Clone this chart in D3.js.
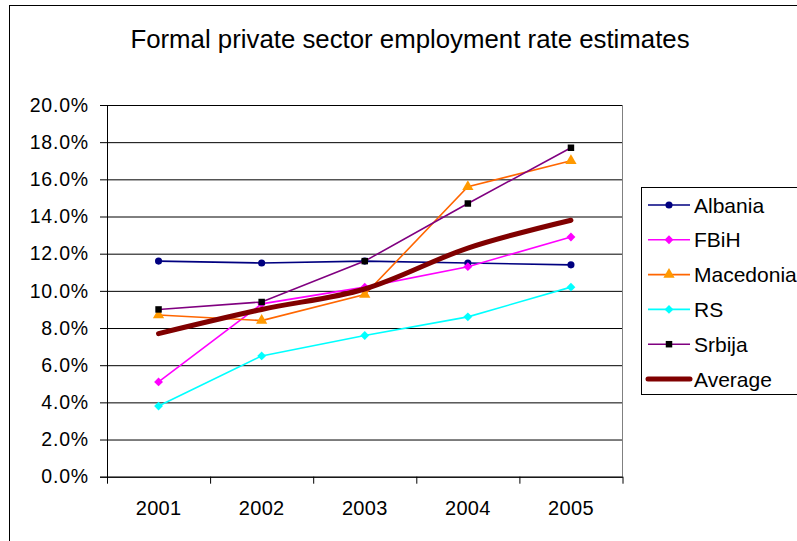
<!DOCTYPE html>
<html>
<head>
<meta charset="utf-8">
<script src="https://cdn.jsdelivr.net/npm/d3@7"></script>
<style>
  body { margin: 0; background: #fff; }
  text { font-family: "Liberation Sans", Arial, sans-serif; fill: #000; }
</style>
</head>
<body>
<div id="chart"></div>
<script>
const years = ["2001", "2002", "2003", "2004", "2005"];
const albania = [11.6, 11.5, 11.6, 11.5, 11.4];
const fbih = [5.1, 9.3, 10.2, 11.3, 12.9];
const macedonia = [8.7, 8.4, 9.8, 15.6, 17.0];
const rs = [3.8, 6.5, 7.6, 8.6, 10.2];
const srbija = [9.0, 9.4, 11.6, 14.7, 17.7];
const average = [7.7, 9.0, 10.1, 12.3, 13.8];
const yTicks = [0, 2, 4, 6, 8, 10, 12, 14, 16, 18, 20];

const series = [
  { name: "Albania", values: albania, line: "#000080", fill: "#000080", marker: "circle" },
  { name: "FBiH", values: fbih, line: "#FF00FF", fill: "#FF00FF", marker: "diamond" },
  { name: "Macedonia", values: macedonia, line: "#FF6600", fill: "#FF9900", marker: "triangle" },
  { name: "RS", values: rs, line: "#00FFFF", fill: "#00FFFF", marker: "diamond" },
  { name: "Srbija", values: srbija, line: "#800080", fill: "#000000", marker: "square" },
  { name: "Average", values: average, line: "#800000", fill: "none", marker: null, width: 5, smooth: true }
];

const W = 797, H = 541;
const plot = { left: 107, right: 622.5, top: 105, bottom: 476.7 };

const svg = d3.select("#chart").append("svg")
  .attr("width", W)
  .attr("height", H);

// outer chart border
svg.append("rect")
  .attr("x", 9.5).attr("y", 5.5)
  .attr("width", W + 10).attr("height", H + 10)
  .attr("fill", "none").attr("stroke", "#000").attr("stroke-width", 1);

svg.append("text")
  .attr("x", 410).attr("y", 48)
  .attr("text-anchor", "middle")
  .style("font-size", "25.8px")
  .text("Formal private sector employment rate estimates");

const x = d3.scaleBand().domain(years).range([plot.left, plot.right]);
const xEdge = d3.scaleLinear().domain([0, years.length]).range([plot.left, plot.right]);
const y = d3.scaleLinear().domain([0, 20]).range([plot.bottom, plot.top]);

// gridlines
svg.append("g")
  .attr("transform", `translate(${plot.left},0)`)
  .call(d3.axisLeft(y).tickValues(yTicks).tickSize(-(plot.right - plot.left)).tickFormat(""))
  .call(g => g.select(".domain").remove())
  .selectAll("line").attr("stroke", "#000");

// plot area right edge
svg.append("line")
  .attr("x1", plot.right).attr("x2", plot.right)
  .attr("y1", plot.top).attr("y2", plot.bottom)
  .attr("stroke", "#808080");

// y axis
svg.append("g")
  .attr("transform", `translate(${plot.left},0)`)
  .call(d3.axisLeft(y).tickValues(yTicks).tickSize(7).tickPadding(11)
    .tickFormat(d => d.toFixed(1) + "%"))
  .call(g => g.selectAll("text").style("font-size", "19.5px").attr("letter-spacing", "0.8px"))
  .call(g => g.selectAll("path, line").attr("stroke", "#000"));

// x axis labels
svg.append("g")
  .attr("transform", `translate(0,${plot.bottom})`)
  .call(d3.axisBottom(x).tickSize(0).tickPadding(24))
  .call(g => g.select(".domain").attr("stroke", "#000"))
  .call(g => g.selectAll("text").style("font-size", "20px").attr("letter-spacing", "0.3px"));

// x tick marks between categories
svg.append("g")
  .attr("transform", `translate(0,${plot.bottom})`)
  .call(d3.axisBottom(xEdge).tickValues(d3.range(years.length + 1)).tickSize(7).tickFormat(""))
  .call(g => g.select(".domain").remove())
  .selectAll("line").attr("stroke", "#000");

const cx = (d, i) => x(years[i]) + x.bandwidth() / 2;

const symbolOf = {
  circle: d3.symbol().type(d3.symbolCircle).size(40),
  diamond: d3.symbol().type(d3.symbolDiamond2).size(50),
  triangle: d3.symbol().type(d3.symbolTriangle).size(55),
  square: d3.symbol().type(d3.symbolSquare).size(42)
};

series.forEach(s => {
  const line = d3.line()
    .x(cx)
    .y(d => y(d));
  if (s.smooth) line.curve(d3.curveCatmullRom.alpha(0.5));

  svg.append("path")
    .datum(s.values)
    .attr("fill", "none")
    .attr("stroke", s.line)
    .attr("stroke-width", s.width || 1.6)
    .attr("stroke-linecap", "round")
    .attr("d", line);

  if (s.marker) {
    svg.selectAll(null)
      .data(s.values)
      .enter()
      .append("path")
      .attr("transform", (d, i) => `translate(${cx(d, i)},${y(d)})`)
      .attr("d", symbolOf[s.marker])
      .attr("fill", s.fill);
  }
});

// legend
const legend = svg.append("g");
legend.append("rect")
  .attr("x", 641.5).attr("y", 187.5)
  .attr("width", 200).attr("height", 207)
  .attr("fill", "#fff").attr("stroke", "#000");

const item = legend.selectAll(".item")
  .data(series)
  .enter()
  .append("g")
  .attr("class", "item")
  .attr("transform", (d, i) => `translate(0,${205 + i * 34.8})`);

item.append("line")
  .attr("x1", 648).attr("x2", 690)
  .attr("stroke", d => d.line)
  .attr("stroke-width", d => d.width || 1.6)
  .attr("stroke-linecap", d => d.width ? "round" : "butt");

item.filter(d => d.marker)
  .append("path")
  .attr("transform", "translate(669,0)")
  .attr("d", d => symbolOf[d.marker]())
  .attr("fill", d => d.fill);

item.append("text")
  .attr("x", 694)
  .attr("y", 7.5)
  .style("font-size", "21px")
  .text(d => d.name);
</script>
</body>
</html>
